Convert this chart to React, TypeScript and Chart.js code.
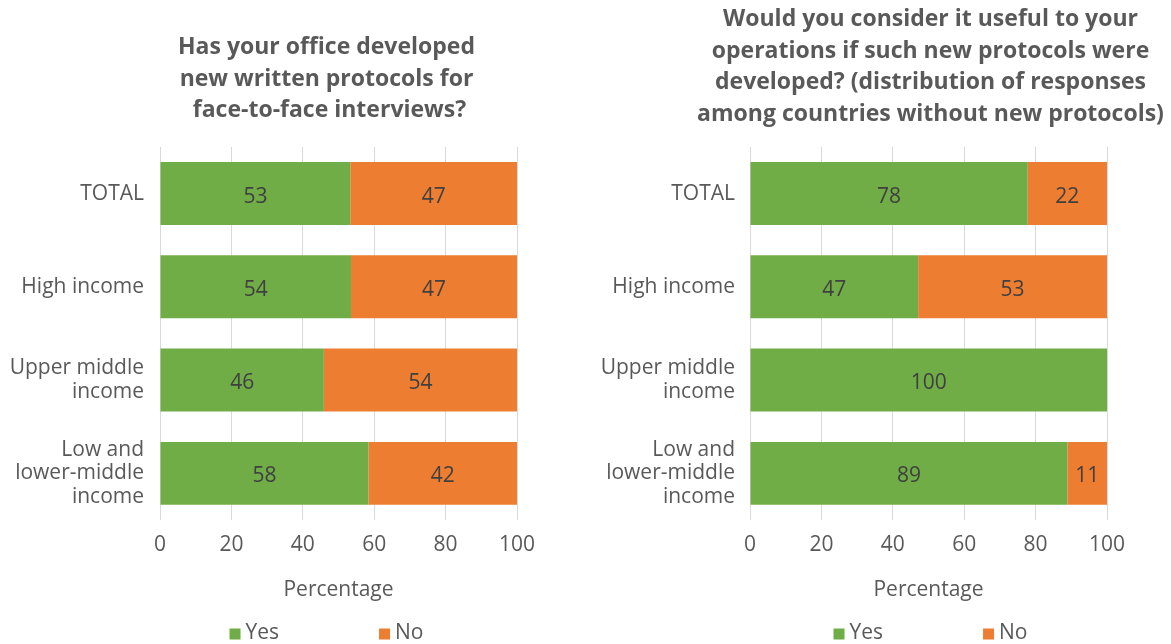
import React, { useEffect, useRef } from "react";
import { Chart, registerables } from "chart.js";

Chart.register(...registerables);

// ---------- data ----------
const categories: string[][] = [
  ["TOTAL"],
  ["High income"],
  ["Upper middle", "income"],
  ["Low and", "lower-middle", "income"],
];
const seriesNames = ["Yes", "No"];
const leftYes = [53.3, 53.5, 45.9, 58.4];
const leftNo = [46.7, 46.5, 54.1, 41.6];
const rightYes = [77.8, 47.1, 100, 88.9];
const rightNo = [22.2, 52.9, 0, 11.1];
const xTicks = [0, 20, 40, 60, 80, 100];
const axisTitle = "Percentage";
const leftTitle = [
  "Has your office developed",
  "new written protocols for",
  " face-to-face interviews?",
];
const rightTitle = [
  "Would you consider it useful to your",
  "operations if such new protocols were",
  "developed? (distribution of responses",
  "among countries without new protocols)",
];

// ---------- style ----------
const GREEN = "#70AD47";
const ORANGE = "#ED7D31";
const GRID = "#D9D9D9";
const TEXT = "#595959";
const VALUE = "#404040";
const FAMILY = "'Open Sans', 'Noto Sans', sans-serif";
const CANVAS_H = 654;

type Cfg = {
  width: number;
  plotLeft: number;
  padRight: number;
  titleTop: number;
  titleBottom: number;
  centerShift: number;
  yPad: number;
};

const titleShiftPlugin = {
  id: "titleShift",
  afterLayout(chart: any, _args: any, opts: any) {
    const t = chart.titleBlock;
    if (!t) return;
    const c = (chart.chartArea.left + chart.chartArea.right) / 2 + (opts.shift || 0);
    const half = Math.min(c, chart.width - c) - 1;
    t.left = c - half;
    t.right = c + half;
  },
};

const valueLabelPlugin = {
  id: "valueLabels",
  afterDatasetsDraw(chart: any) {
    const ctx = chart.ctx;
    ctx.save();
    ctx.font = `21px ${FAMILY}`;
    ctx.fillStyle = VALUE;
    ctx.textAlign = "center";
    ctx.textBaseline = "middle";
    chart.data.datasets.forEach((ds: any, di: number) => {
      const meta = chart.getDatasetMeta(di);
      meta.data.forEach((el: any, i: number) => {
        const v = ds.data[i];
        if (!v) return;
        const p = el.getCenterPoint();
        ctx.fillText(String(Math.round(v)), p.x, p.y + 3);
      });
    });
    ctx.restore();
  },
};

const customLegendPlugin = {
  id: "customLegend",
  afterDraw(chart: any, _args: any, opts: any) {
    const ctx = chart.ctx;
    ctx.save();
    ctx.font = `21px ${FAMILY}`;
    const box = 11;
    const gap = 5;
    const itemGap = 100;
    const items = chart.data.datasets.map((d: any) => ({
      text: d.label,
      color: d.backgroundColor,
      w: ctx.measureText(d.label).width,
    }));
    let total = 0;
    items.forEach((it: any, i: number) => {
      total += box + gap + it.w + (i < items.length - 1 ? itemGap : 0);
    });
    const center = (chart.chartArea.left + chart.chartArea.right) / 2 + (opts.shift || 0);
    let x = center - total / 2;
    const y = chart.height - 20;
    ctx.textBaseline = "middle";
    ctx.textAlign = "left";
    items.forEach((it: any) => {
      ctx.fillStyle = it.color;
      ctx.fillRect(x, y - box / 2, box, box);
      x += box + gap;
      ctx.fillStyle = TEXT;
      ctx.fillText(it.text, x, y - 1);
      x += it.w + itemGap;
    });
    ctx.restore();
  },
};

function Panel({ title, yes, no, cfg }: { title: string[]; yes: number[]; no: number[]; cfg: Cfg }) {
  const ref = useRef<HTMLCanvasElement>(null);
  useEffect(() => {
    const chart = new Chart(ref.current as HTMLCanvasElement, {
      type: "bar",
      data: {
        labels: categories as any,
        datasets: [
          { label: seriesNames[0], data: yes, backgroundColor: GREEN, borderWidth: 0 },
          { label: seriesNames[1], data: no, backgroundColor: ORANGE, borderWidth: 0 },
        ],
      },
      options: {
        indexAxis: "y",
        responsive: false,
        animation: false,
        events: [],
        layout: { padding: { left: 0, right: cfg.padRight, top: 0, bottom: 44 } },
        datasets: { bar: { barPercentage: 0.675, categoryPercentage: 1 } } as any,
        scales: {
          x: {
            stacked: true,
            min: 0,
            max: 100,
            afterBuildTicks: (s: any) => {
              s.ticks = xTicks.map((v) => ({ value: v }));
            },
            afterFit: (s: any) => {
              s.height = 90;
            },
            grid: { color: GRID, drawTicks: false, lineWidth: 1 },
            border: { display: false },
            ticks: { padding: 12, color: TEXT, font: { family: FAMILY, size: 21 } },
            title: {
              display: true,
              text: axisTitle,
              color: TEXT,
              font: { family: FAMILY, size: 21 },
              padding: { top: 0, bottom: 7 },
            },
          },
          y: {
            stacked: true,
            afterFit: (s: any) => {
              s.width = cfg.plotLeft;
            },
            grid: { display: false, drawTicks: false },
            border: { display: false },
            ticks: {
              padding: cfg.yPad,
              color: TEXT,
              font: { family: FAMILY, size: 21, lineHeight: 1.12 },
            },
          },
        } as any,
        plugins: {
          legend: { display: false },
          tooltip: { enabled: false },
          title: {
            display: true,
            text: title,
            color: TEXT,
            font: { family: FAMILY, size: 23, weight: "bold", lineHeight: 1.39 },
            padding: { top: cfg.titleTop, bottom: cfg.titleBottom },
          },
          titleShift: { shift: cfg.centerShift },
          customLegend: { shift: cfg.centerShift },
        } as any,
      },
      plugins: [titleShiftPlugin, valueLabelPlugin, customLegendPlugin] as any,
    });
    return () => chart.destroy();
  }, []);
  return (
    <canvas
      ref={ref}
      width={cfg.width}
      height={CANVAS_H}
      style={{ display: "block", width: cfg.width, height: CANVAS_H }}
    />
  );
}

const leftCfg: Cfg = {
  width: 585,
  plotLeft: 160,
  padRight: 68,
  titleTop: 31,
  titleBottom: 20,
  centerShift: -12,
  yPad: 16,
};
const rightCfg: Cfg = {
  width: 586,
  plotLeft: 165,
  padRight: 64,
  titleTop: 3,
  titleBottom: 16,
  centerShift: 2,
  yPad: 15,
};

export default function App() {
  return (
    <div
      style={{
        position: "fixed",
        left: 0,
        top: 0,
        width: 1171,
        height: 644,
        overflow: "hidden",
        background: "#ffffff",
        display: "flex",
      }}
    >
      <Panel title={leftTitle} yes={leftYes} no={leftNo} cfg={leftCfg} />
      <Panel title={rightTitle} yes={rightYes} no={rightNo} cfg={rightCfg} />
    </div>
  );
}
